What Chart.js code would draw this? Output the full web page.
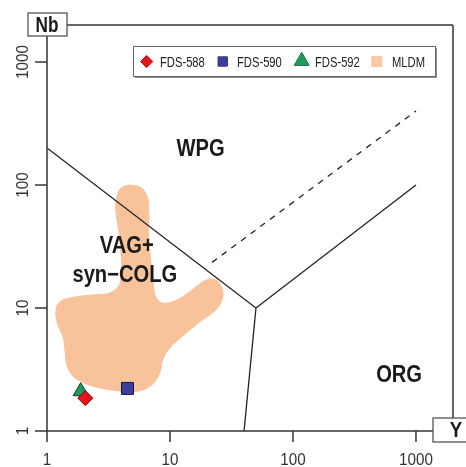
<!DOCTYPE html>
<html><head><meta charset="utf-8">
<script src="https://cdn.jsdelivr.net/npm/chart.js@4.4.0/dist/chart.umd.min.js"></script>
<style>html,body{margin:0;padding:0;background:#fff;overflow:hidden}#wrap{width:466px;height:467px}</style>
</head><body><div id="wrap"><canvas id="c" width="466" height="467"></canvas></div>
<script>
// ---- data ----
const xTicks = [1, 10, 100, 1000];
const yTicks = [1, 10, 100, 1000];
const xTickLabels = ['1', '10', '100', '1000'];
const yTickLabels = ['1', '10', '100', '1000'];
const xAxisTitle = 'Y';
const yAxisTitle = 'Nb';

const sampleNames = ['FDS-588', 'FDS-590', 'FDS-592'];
const sampleY  = [2.05, 4.51, 1.88];
const sampleNb = [1.85, 2.22, 2.10];

const mldmName = 'MLDM';
const mldmY  = [4.71,5.68,6.47,6.72,6.72,6.97,7.24,7.66,8.73,10.9,14.4,18.4,22.2,25.8,26.8,23.5,17.4,12.7,9.94,8.73,8.25,7.11,5.47,4.06,2.69,1.92,1.60,1.45,1.40,1.35,1.23,1.18,1.27,1.69,2.45,3.37,3.98,3.91,3.63,3.77,4.13,4.71];
const mldmNb = [100,96.4,82.9,62.6,39.2,24.6,16.9,12.3,11.0,11.4,13.5,16.3,17.2,15.4,12.1,9.64,7.69,5.92,4.73,3.78,2.96,2.37,2.11,2.11,2.24,2.50,2.85,3.44,4.56,5.81,7.27,9.28,11.2,12.3,12.8,13.5,16.9,35.7,62.6,86.1,96.4,100];

const boundary1Y = [1, 50, 40],  boundary1Nb = [200, 10, 1];
const boundary2Y = [50, 1000],   boundary2Nb = [10, 100];
const boundary3Y = [22, 1000],   boundary3Nb = [23.5, 400];

const regionNames = ['WPG', 'VAG+', 'syn\u2212COLG', 'ORG'];
const regionY  = [17.7, 4.45, 4.29, 729];
const regionNb = [172, 28, 16.3, 2.5];

// ---- helpers ----
const pts = (xs, ys) => xs.map((v, i) => ({x: v, y: ys[i]}));

const styles = {
  'FDS-588': {pointStyle: 'rectRot', r: 7.5, bg: '#e3141c', bd: '#7a0a0e', lr: 6},
  'FDS-590': {pointStyle: 'rect', r: 8.5, bg: '#3b3e9a', bd: '#16164a', lr: 6.5},
  'FDS-592': {pointStyle: 'triangle', r: 8.7, bg: '#1f9a5c', bd: '#0b3f22', lr: 8.5}
};
const blobColor = '#f8c39b';

const sampleSets = sampleNames.map((n, i) => ({
  label: n, data: [{x: sampleY[i], y: sampleNb[i]}],
  pointStyle: styles[n].pointStyle, pointRadius: styles[n].r, pointHoverRadius: styles[n].r,
  backgroundColor: styles[n].bg, borderColor: styles[n].bd, borderWidth: 1,
  order: [0, 1, 2][i]
}));

const lineSet = (xs, ys, dash, ord) => ({
  label: '', data: pts(xs, ys), showLine: true, pointRadius: 0, pointHoverRadius: 0,
  borderColor: '#222', borderWidth: 1.3, borderDash: dash, fill: false, tension: 0, order: ord
});

function txt(ctx, s, x, y, font, sx, align) {
  ctx.save(); ctx.translate(x, y); ctx.scale(sx, 1);
  ctx.font = font; ctx.textAlign = align || 'center'; ctx.textBaseline = 'alphabetic';
  ctx.fillText(s, 0, 0); ctx.restore();
}
function seg(ctx, x1, y1, x2, y2) { ctx.beginPath(); ctx.moveTo(x1, y1); ctx.lineTo(x2, y2); ctx.stroke(); }

const decor = {
  id: 'decor',
  afterDraw(chart) {
    const {ctx, chartArea: a, scales: {x, y}} = chart;
    ctx.save();
    // region labels
    ctx.fillStyle = '#1a1a1a';
    regionNames.forEach((n, i) => {
      txt(ctx, n, x.getPixelForValue(regionY[i]), y.getPixelForValue(regionNb[i]), 'bold 24px "Liberation Sans", Arial, sans-serif', 0.84);
    });
    // axes
    ctx.strokeStyle = '#333'; ctx.lineWidth = 1.5;
    const yBoxL = 433, yBoxT = a.bottom - 13, yBoxB = a.bottom + 11;
    const nbBoxL = a.left - 19, nbBoxR = a.left + 20, nbBoxT = a.top - 12, nbBoxB = a.top + 11;
    seg(ctx, a.left, a.top, a.left, a.bottom);
    seg(ctx, a.left, a.bottom, yBoxL, a.bottom);
    seg(ctx, nbBoxR, a.top, a.right, a.top);
    seg(ctx, a.right, a.top, a.right, yBoxT);
    ctx.fillStyle = '#333';
    xTicks.forEach((v, i) => {
      const px = x.getPixelForValue(v);
      seg(ctx, px, a.bottom, px, a.bottom + 11);
      txt(ctx, xTickLabels[i], px, a.bottom + 34, '16px "Liberation Sans", Arial, sans-serif', 0.95);
    });
    yTicks.forEach((v, i) => {
      const py = y.getPixelForValue(v);
      seg(ctx, a.left - 12, py, a.left, py);
      ctx.save(); ctx.translate(a.left - 19.5, py); ctx.rotate(-Math.PI / 2);
      txt(ctx, yTickLabels[i], 0, 0, '16px "Liberation Sans", Arial, sans-serif', 0.95);
      ctx.restore();
    });
    // axis title boxes
    ctx.lineWidth = 1.3; ctx.strokeStyle = '#555'; ctx.fillStyle = '#fff';
    ctx.fillRect(nbBoxL, nbBoxT, nbBoxR - nbBoxL, nbBoxB - nbBoxT);
    ctx.strokeRect(nbBoxL, nbBoxT, nbBoxR - nbBoxL, nbBoxB - nbBoxT);
    ctx.fillRect(yBoxL, yBoxT, 40, yBoxB - yBoxT);
    ctx.strokeRect(yBoxL, yBoxT, 40, yBoxB - yBoxT);
    ctx.fillStyle = '#1a1a1a';
    txt(ctx, yAxisTitle, a.left, a.top + 7, 'bold 22px "Liberation Sans", Arial, sans-serif', 0.78);
    txt(ctx, xAxisTitle, 456, a.bottom + 6, 'bold 22px "Liberation Sans", Arial, sans-serif', 0.85);
    // legend
    const L = 133, T = 46, W = 302, H = 30;
    ctx.fillStyle = '#8a8a8a'; ctx.fillRect(L + 2, T + 2, W, H);
    ctx.fillStyle = '#fff'; ctx.fillRect(L, T, W, H);
    ctx.strokeStyle = '#666'; ctx.lineWidth = 1; ctx.strokeRect(L + 0.5, T + 0.5, W, H);
    const cy = T + 15.5;
    const items = [
      {name: sampleNames[0], mx: 146.7, tx: 160},
      {name: sampleNames[1], mx: 222.7, tx: 237},
      {name: sampleNames[2], mx: 301.7, tx: 315},
      {name: mldmName, mx: 376.7, tx: 392}
    ];
    items.forEach(it => {
      const s = styles[it.name];
      if (s) {
        ctx.fillStyle = s.bg; ctx.strokeStyle = s.bd; ctx.lineWidth = 1;
        Chart.helpers.drawPoint(ctx, {pointStyle: s.pointStyle, radius: s.lr, rotation: 0, borderWidth: 1}, it.mx, s.pointStyle === 'triangle' ? cy - 0.5 : cy);
        ctx.fill(); 
      } else {
        ctx.fillStyle = '#fac8a3'; ctx.fillRect(it.mx - 5.5, cy - 5.5, 11, 11);
      }
      ctx.fillStyle = '#222';
      txt(ctx, it.name, it.tx, cy + 5.5, '14px "Liberation Sans", Arial, sans-serif', 0.8, 'left');
    });
    ctx.restore();
  }
};

new Chart(document.getElementById('c'), {
  type: 'scatter',
  data: {
    datasets: [
      ...sampleSets,
      lineSet(boundary1Y, boundary1Nb, [], 3),
      lineSet(boundary2Y, boundary2Nb, [], 4),
      lineSet(boundary3Y, boundary3Nb, [6, 6], 5),
      {label: mldmName, data: pts(mldmY, mldmNb), showLine: true, pointRadius: 0, pointHoverRadius: 0,
       borderColor: blobColor, borderWidth: 1, backgroundColor: blobColor, fill: 'shape', tension: 0.4, order: 6}
    ]
  },
  options: {
    responsive: false, animation: false,
    layout: {padding: {left: 47, right: 13, top: 25, bottom: 36}},
    scales: {
      x: {type: 'logarithmic', min: 1, max: 2000, display: false},
      y: {type: 'logarithmic', min: 1, max: 2000, display: false}
    },
    plugins: {legend: {display: false}, tooltip: {enabled: false}}
  },
  plugins: [decor]
});
</script></body></html>
